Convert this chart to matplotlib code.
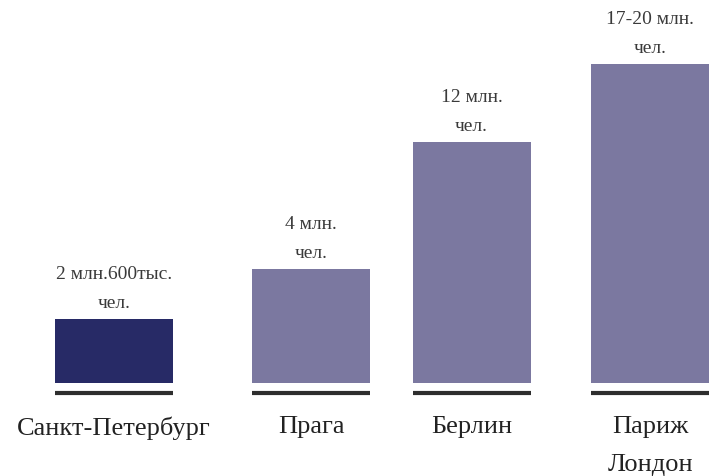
import matplotlib
matplotlib.use("Agg")
import matplotlib.pyplot as plt

# Data
categories = ["Санкт-Петербург", "Прага", "Берлин", "Париж\nЛондон"]
bar_heights = [64, 114, 241, 319]  # relative bar heights as drawn
value_labels = ["2 млн.600тыс.\nчел.", "4 млн.\nчел.", "12 млн.\nчел.", "17-20 млн.\nчел."]

# Layout
positions = [114, 311, 471.5, 650]
bar_width = 118
colors = ["#272a66", "#7b78a0", "#7b78a0", "#7b78a0"]

plt.rcParams['font.family'] = ['Liberation Serif', 'DejaVu Serif']

fig = plt.figure(figsize=(7.16, 4.76), dpi=100)
ax = fig.add_axes([0, 0, 1, 1])
ax.set_xlim(0, 716)
ax.set_ylim(-93, 383)
ax.axis('off')

bars = ax.bar(positions, bar_heights, width=bar_width, color=colors, edgecolor='none')

for x, h, lab in zip(positions, bar_heights, value_labels):
    ax.hlines(-10, x - bar_width / 2, x + bar_width / 2, color="#2e2e2e", linewidth=3.0)
    ax.annotate(lab, (x, h), xytext=(0, 5), textcoords='offset points',
                ha='center', va='bottom', fontsize=14, color="#3a3a3a", linespacing=1.9)

for x, cat in zip(positions, categories):
    ax.text(x, -33, cat, ha='center', va='top', fontsize=19, color="#222222", linespacing=1.95)

fig.savefig("out.png", dpi=100)
